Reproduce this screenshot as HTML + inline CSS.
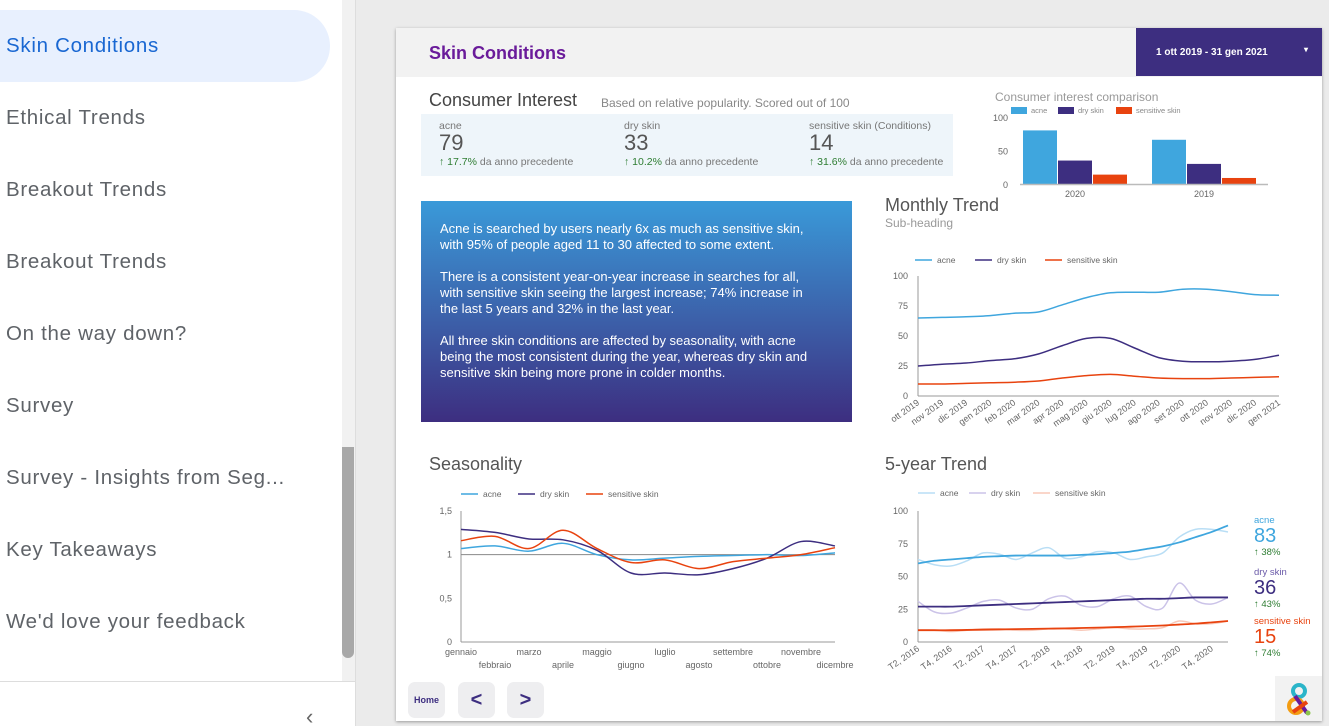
<!DOCTYPE html>
<html><head><meta charset="utf-8"><style>
*{box-sizing:border-box;margin:0;padding:0}
html,body{width:1329px;height:726px;overflow:hidden}
body{background:#ebebeb;font-family:"Liberation Sans",sans-serif;position:relative}
.abs{position:absolute}
#sidebar{left:0;top:0;width:356px;height:726px;background:#fff;border-right:1px solid #ddd}
.nav{position:absolute;left:6px;font-size:20.5px;letter-spacing:0.7px;color:#5f6368;line-height:24px;white-space:nowrap}
#page{left:396px;top:28px;width:926px;height:693px;background:#fff;box-shadow:0 1px 3px rgba(0,0,0,.35)}
.btn{position:absolute;top:682px;width:37px;height:36px;background:#eeeef0;border-radius:7px;color:#3d2e80;font-weight:bold;text-align:center}
</style></head><body>
<div id="sidebar" class="abs">
  <div class="abs" style="left:0;top:10px;width:330px;height:72px;background:#e8f0fe;border-radius:0 36px 36px 0"></div>
  <div class="nav" style="top:34px;color:#1967d2">Skin Conditions</div>
  <div class="nav" style="top:106px">Ethical Trends</div>
  <div class="nav" style="top:178px">Breakout Trends</div>
  <div class="nav" style="top:250px">Breakout Trends</div>
  <div class="nav" style="top:322px">On the way down?</div>
  <div class="nav" style="top:394px">Survey</div>
  <div class="nav" style="top:466px">Survey - Insights from Seg...</div>
  <div class="nav" style="top:538px">Key Takeaways</div>
  <div class="nav" style="top:610px">We'd love your feedback</div>
  <div class="abs" style="left:342px;top:0;width:13px;height:681px;background:#f1f1f1"></div>
  <div class="abs" style="left:342px;top:447px;width:12px;height:211px;background:#a8a8a8;border-radius:0 0 6px 6px"></div>
  <div class="abs" style="left:0;top:681px;width:355px;height:1px;background:#ddd"></div>
  <div class="abs" style="left:306px;top:704px;font-size:22px;color:#666">‹</div>
</div>

<div id="page" class="abs"></div>
<div class="abs" style="left:396px;top:28px;width:926px;height:49px;background:#f2f2f2"></div>
<div class="abs" style="left:429px;top:43px;font-size:18px;font-weight:bold;color:#6a1b9a">Skin Conditions</div>
<div class="abs" style="left:1136px;top:28px;width:186px;height:48px;background:#3d2e80;color:#fff;font-size:10px;font-weight:bold"><span class="abs" style="left:20px;top:19px">1 ott 2019 - 31 gen 2021</span><span class="abs" style="left:168px;top:17px;font-size:8px">▾</span></div>

<div class="abs" style="left:429px;top:90px;font-size:18px;color:#444">Consumer Interest</div>
<div class="abs" style="left:601px;top:96px;font-size:12px;color:#888">Based on relative popularity. Scored out of 100</div>
<div class="abs" style="left:421px;top:114px;width:532px;height:62px;background:#eef5fa"></div>
<div class="abs" style="left:439px;top:120px;color:#777;font-size:10.5px">acne<div style="font-size:22px;color:#555;line-height:22px">79</div><div style="font-size:10.5px;margin-top:2px"><span style="color:#2e7d32">↑ 17.7%</span> da anno precedente</div></div>
<div class="abs" style="left:624px;top:120px;color:#777;font-size:10.5px">dry skin<div style="font-size:22px;color:#555;line-height:22px">33</div><div style="font-size:10.5px;margin-top:2px"><span style="color:#2e7d32">↑ 10.2%</span> da anno precedente</div></div>
<div class="abs" style="left:809px;top:120px;color:#777;font-size:10.5px">sensitive skin (Conditions)<div style="font-size:22px;color:#555;line-height:22px">14</div><div style="font-size:10.5px;margin-top:2px"><span style="color:#2e7d32">↑ 31.6%</span> da anno precedente</div></div>

<div class="abs" style="left:421px;top:201px;width:431px;height:221px;background:linear-gradient(#3a9ad9,#3d2e80);color:#fff;font-size:13px;line-height:16px;padding:20px 10px 0 19px;white-space:nowrap">
<p>Acne is searched by users nearly 6x as much as sensitive skin,<br>with 95% of people aged 11 to 30 affected to some extent.</p><br>
<p>There is a consistent year-on-year increase in searches for all,<br>with sensitive skin seeing the largest increase; 74% increase in<br>the last 5 years and 32% in the last year.</p><br>
<p>All three skin conditions are affected by seasonality, with acne<br>being the most consistent during the year, whereas dry skin and<br>sensitive skin being more prone in colder months.</p></div>

<div class="abs" style="left:885px;top:195px;font-size:18px;color:#555">Monthly Trend</div>
<div class="abs" style="left:885px;top:216px;font-size:12px;color:#999">Sub-heading</div>
<div class="abs" style="left:429px;top:454px;font-size:18px;color:#555">Seasonality</div>
<div class="abs" style="left:885px;top:454px;font-size:18px;color:#555">5-year Trend</div>

<div class="abs" style="left:1254px;top:515px;font-size:9.5px;color:#3fa6de">acne<div style="font-size:20px;line-height:20px">83</div><div style="color:#2e7d32;font-size:9.5px;margin-top:1px">↑ 38%</div></div>
<div class="abs" style="left:1254px;top:567px;font-size:9.5px;color:#6a5aa8">dry skin<div style="font-size:20px;line-height:20px;color:#3d2e80">36</div><div style="color:#2e7d32;font-size:9.5px;margin-top:1px">↑ 43%</div></div>
<div class="abs" style="left:1254px;top:616px;font-size:9.5px;color:#e8430f">sensitive skin<div style="font-size:20px;line-height:20px">15</div><div style="color:#2e7d32;font-size:9.5px;margin-top:1px">↑ 74%</div></div>

<div class="btn" style="left:408px;font-size:9px;line-height:36px">Home</div>
<div class="btn" style="left:458px;font-size:20px;line-height:36px">&lt;</div>
<div class="btn" style="left:507px;font-size:20px;line-height:36px">&gt;</div>
<div class="abs" style="left:1275px;top:676px;width:47px;height:45px;background:#f2f2f2">
<svg width="47" height="45"><circle cx="24" cy="15" r="6" fill="none" stroke="#2bb5c9" stroke-width="4"/><circle cx="21" cy="30" r="7" fill="none" stroke="#f39c12" stroke-width="4"/><line x1="20" y1="20" x2="32" y2="37" stroke="#6a1b9a" stroke-width="4"/><line x1="18" y1="36" x2="32" y2="26" stroke="#e8430f" stroke-width="4"/><circle cx="33" cy="37" r="2.5" fill="#8bc34a"/></svg></div>

<svg id="charts" class="abs" style="left:0;top:0" width="1329" height="726" font-family="Liberation Sans, sans-serif"></svg>

<script>
// Bar chart data
const barGroups = ["2020","2019"];
const barAcne = [80, 66];
const barDry = [35, 30];
const barSens = [14, 9];
// Monthly trend data
const monthLabels = ["ott 2019","nov 2019","dic 2019","gen 2020","feb 2020","mar 2020","apr 2020","mag 2020","giu 2020","lug 2020","ago 2020","set 2020","ott 2020","nov 2020","dic 2020","gen 2021"];
const monthAcne = [65,65.5,66,67,69,70,76,82,86,86.5,86.5,89,89,87,84.5,84];
const monthDry = [25,26.5,27.5,29.5,31,35,42,48,48,40,32,29,28.5,29,30.5,34];
const monthSens = [10,10,10.5,11,11.5,12.5,15,17,18,16.5,15,14.5,14.5,15,15.5,16];
const monthTicks = [0,25,50,75,100];
// Seasonality data
const seasonLabels = ["gennaio","febbraio","marzo","aprile","maggio","giugno","luglio","agosto","settembre","ottobre","novembre","dicembre"];
const seasonAcne = [1.07,1.10,1.04,1.13,1.0,0.94,0.96,0.98,0.99,1.0,0.99,1.02];
const seasonDry = [1.29,1.255,1.18,1.17,1.05,0.79,0.79,0.77,0.84,0.96,1.15,1.10];
const seasonSens = [1.16,1.21,1.07,1.28,1.07,0.91,0.94,0.84,0.92,0.96,1.0,1.08];
const seasonTicks = [0,0.5,1,1.5];
const seasonTickLabels = ["0","0,5","1","1,5"];
// 5-year data
const qLabels = ["T2, 2016","T3, 2016","T4, 2016","T1, 2017","T2, 2017","T3, 2017","T4, 2017","T1, 2018","T2, 2018","T3, 2018","T4, 2018","T1, 2019","T2, 2019","T3, 2019","T4, 2019","T1, 2020","T2, 2020","T3, 2020","T4, 2020","T1, 2021"];
const qAcne = [63,59,58,62,68,67,63,68,72,64,65,69,68,63,65,68,80,86,86,84];
const qAcneTrend = [60,62,63,64,65,65.5,66,66,66,66,66.5,67,68,69,71,73,76,80,84,89];
const qDry = [31,23,22,26,31,32,26,25,33,35,28,27,33,35,27,26,45,32,29,34];
const qDryTrend = [27,27,27,27.5,28,28.5,29,29.5,30,30.5,31,31.5,32,32.5,33,33,33.5,34,34,34];
const qSens = [9,9,8,9,10,10,9,9,10,10,9,10,11,10,10,11,16,14,14,16];
const qSensTrend = [9,9,9,9.2,9.4,9.6,9.8,10,10.2,10.4,10.7,11,11.3,11.7,12.1,12.6,13.3,14,15,16];

const C={acne:"#3fa6de",dry:"#3d2e80",sens:"#e8430f",lacne:"#b9def5",ldry:"#cbc3e8",lsens:"#f8c8b8"};
const svg=document.getElementById('charts');
const NS="http://www.w3.org/2000/svg";
function mk(tag,attrs,name,parent){const e=document.createElementNS(NS,tag);for(const k in attrs)e.setAttribute(k,attrs[k]);


(parent||svg).appendChild(e);return e;}
function txt(x,y,s,attrs,name){const t=mk('text',Object.assign({x:x,y:y,'font-size':9,fill:'#666'},attrs),name);t.textContent=s;return t;}
function smooth(pts){let d="M"+pts[0][0]+","+pts[0][1];for(let i=0;i<pts.length-1;i++){const p0=pts[i-1]||pts[i],p1=pts[i],p2=pts[i+1],p3=pts[i+2]||p2;
const c1x=p1[0]+(p2[0]-p0[0])/6,c1y=p1[1]+(p2[1]-p0[1])/6,c2x=p2[0]-(p3[0]-p1[0])/6,c2y=p2[1]-(p3[1]-p1[1])/6;
d+=" C"+c1x+","+c1y+" "+c2x+","+c2y+" "+p2[0]+","+p2[1];}return d;}
function line(vals,xf,yf,color,w,name){mk('path',{d:smooth(vals.map((v,i)=>[xf(i),yf(v)])),fill:'none',stroke:color,'stroke-width':w},name);}
function legend(items,y){items.forEach(it=>{mk('line',{x1:it[0],x2:it[0]+17,y1:y,y2:y,stroke:it[2],'stroke-width':1.5},'legend-line-'+it[3]);txt(it[0]+22,y+3,it[1],{'font-size':8.5},'legend-entry-'+it[3]);});}

// ---- bar chart
txt(995,101,"Consumer interest comparison",{'font-size':12,fill:'#999'},'bar-chart-title');
[[1011,"acne",C.acne],[1058,"dry skin",C.dry],[1116,"sensitive skin",C.sens]].forEach((l,i)=>{mk('rect',{x:l[0],y:107,width:16,height:7,fill:l[2]},'bar-legend-swatch');txt(l[0]+20,113,l[1],{'font-size':7.5,fill:'#888'},'bar-legend-entry');});
const bY=v=>184-v*0.67;
[0,50,100].forEach(t=>txt(1008,bY(t)+4,t,{'text-anchor':'end','font-size':9},'bar-y-tick'));
const gx=[1075,1204];
barGroups.forEach((g,i)=>{[[barAcne,C.acne],[barDry,C.dry],[barSens,C.sens]].forEach((s,j)=>{const x=gx[i]-52+j*35;mk('rect',{x:x,y:bY(s[0][i]),width:34,height:184-bY(s[0][i]),fill:s[1]},'bar-'+g+'-'+j);});txt(gx[i],197,g,{'text-anchor':'middle','font-size':9},'bar-x-label');});
mk('line',{x1:1020,x2:1268,y1:184.5,y2:184.5,stroke:'#bbb','stroke-width':1.5},'bar-x-axis');

// ---- monthly trend
const mX=i=>918+i*(1279-918)/(monthLabels.length-1), mY=v=>396-v*1.2;
legend([[915,"acne",C.acne,'acne'],[975,"dry skin",C.dry,'dry'],[1045,"sensitive skin",C.sens,'sens']],260);
monthTicks.forEach(t=>txt(908,mY(t)+3,t,{'text-anchor':'end','font-size':9},'monthly-y-tick'));
mk('line',{x1:918,x2:918,y1:276,y2:396,stroke:'#999'},'monthly-y-axis');
mk('line',{x1:918,x2:1279,y1:396,y2:396,stroke:'#999'},'monthly-x-axis');
monthLabels.forEach((l,i)=>txt(mX(i)+2,404,l,{'text-anchor':'end','font-size':9,transform:'rotate(-35 '+(mX(i)+2)+' 404)'},'monthly-x-label'));
line(monthAcne,mX,mY,C.acne,1.5,'monthly-line-acne');
line(monthDry,mX,mY,C.dry,1.5,'monthly-line-dry');
line(monthSens,mX,mY,C.sens,1.5,'monthly-line-sens');

// ---- seasonality
const sX=i=>461+i*(835-461)/11, sY=v=>642-v*(131/1.5);
legend([[461,"acne",C.acne,'acne'],[518,"dry skin",C.dry,'dry'],[586,"sensitive skin",C.sens,'sens']],494);
seasonTicks.forEach((t,i)=>txt(452,sY(t)+3,seasonTickLabels[i],{'text-anchor':'end','font-size':9},'season-y-tick'));
mk('line',{x1:461,x2:461,y1:511,y2:642,stroke:'#999'},'season-y-axis');
mk('line',{x1:461,x2:835,y1:642,y2:642,stroke:'#999'},'season-x-axis');
mk('line',{x1:461,x2:835,y1:sY(1),y2:sY(1),stroke:'#888'},'season-reference-line');
seasonLabels.forEach((l,i)=>txt(sX(i),i%2?668:655,l,{'text-anchor':'middle','font-size':9},'season-x-label'));
line(seasonAcne,sX,sY,C.acne,1.5,'season-line-acne');
line(seasonDry,sX,sY,C.dry,1.5,'season-line-dry');
line(seasonSens,sX,sY,C.sens,1.5,'season-line-sens');

// ---- 5-year
const qX=i=>918+i*(1228-918)/(qLabels.length-1), qY=v=>642-v*1.31;
legend([[918,"acne",C.lacne,'acne'],[969,"dry skin",C.ldry,'dry'],[1033,"sensitive skin",C.lsens,'sens']],493);
monthTicks.forEach(t=>txt(908,qY(t)+3,t,{'text-anchor':'end','font-size':9},'five-year-y-tick'));
mk('line',{x1:918,x2:918,y1:511,y2:642,stroke:'#999'},'five-year-y-axis');
mk('line',{x1:918,x2:1228,y1:642,y2:642,stroke:'#999'},'five-year-x-axis');
qLabels.forEach((l,i)=>{if(i%2===0)txt(qX(i)+2,650,l,{'text-anchor':'end','font-size':9,transform:'rotate(-35 '+(qX(i)+2)+' 650)'},'five-year-x-label');});
line(qAcne,qX,qY,C.lacne,1.5,'five-year-line-acne');
line(qDry,qX,qY,C.ldry,1.5,'five-year-line-dry');
line(qSens,qX,qY,C.lsens,1.5,'five-year-line-sens');
line(qAcneTrend,qX,qY,C.acne,1.8,'five-year-trend-acne');
line(qDryTrend,qX,qY,C.dry,1.8,'five-year-trend-dry');
line(qSensTrend,qX,qY,C.sens,1.8,'five-year-trend-sens');
</script>
</body></html>
